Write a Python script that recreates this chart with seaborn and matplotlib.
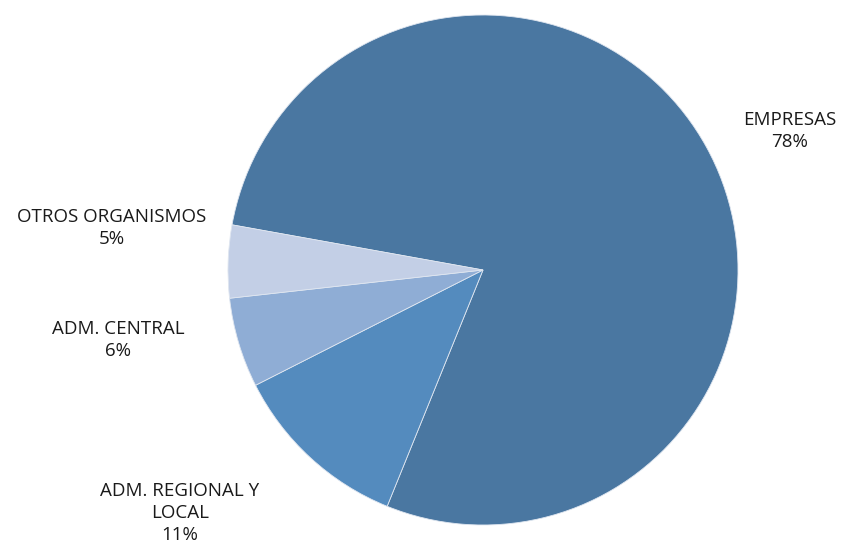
import matplotlib
matplotlib.use("Agg")
import matplotlib.pyplot as plt
import seaborn as sns

categories = ["EMPRESAS", "ADM. REGIONAL Y\nLOCAL", "ADM. CENTRAL", "OTROS ORGANISMOS"]
values = [78.3, 11.4, 5.7, 4.6]
colors = ["#4A77A1", "#548BBE", "#8FADD5", "#C3CFE6"]

sns.set_theme(style="white")
plt.rcParams["font.family"] = ["Open Sans", "DejaVu Sans"]

fig = plt.figure(figsize=(8.59, 5.60), dpi=100)
ax = fig.add_axes([228/859, 35/560, 510/859, 510/560])
wedges, _ = ax.pie(values, colors=colors, startangle=169.8, counterclock=False,
                   radius=1.0, wedgeprops=dict(edgecolor="#dfe6f0", linewidth=0.6))
ax.set_xlim(-1, 1)
ax.set_ylim(-1, 1)
ax.set_aspect("equal")
ax.axis("off")

label_pos = [(1.204, 0.545), (-1.188, -0.953), (-1.431, -0.275), (-1.455, 0.165)]
total = sum(values)
for cat, v, (x, y) in zip(categories, values, label_pos):
    ax.text(x, y, f"{cat}\n{v/total*100:.0f}%", ha="center", va="center",
            fontsize=13.5, color="#1a1a1a", linespacing=1.3, clip_on=False)

fig.savefig("out.png", dpi=100, facecolor="white")
